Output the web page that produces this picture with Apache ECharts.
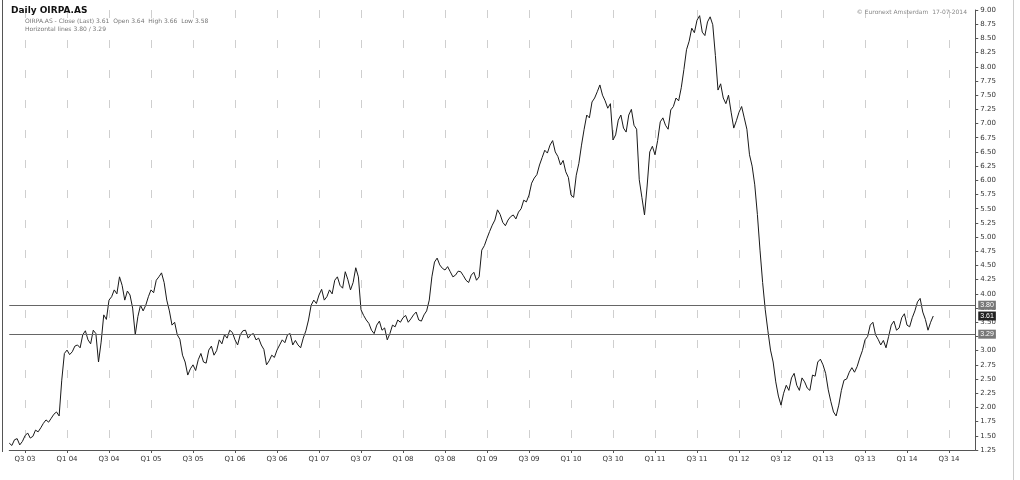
<!DOCTYPE html>
<html>
<head>
<meta charset="utf-8">
<script src="https://cdn.jsdelivr.net/npm/echarts@6/dist/echarts.min.js"></script>
<style>
html,body{margin:0;padding:0;background:#fff;}
#c{width:1020px;height:480px;}
</style>
</head>
<body>
<div id="c"></div>
<script>
// Half-year period labels shown on the x axis
const periodLabels = ['Q3 03','Q1 04','Q3 04','Q1 05','Q3 05','Q1 06','Q3 06','Q1 07','Q3 07','Q1 08','Q3 08','Q1 09','Q3 09','Q1 10','Q3 10','Q1 11','Q3 11','Q1 12','Q3 12','Q1 13','Q3 13','Q1 14','Q3 14'];
const preLabel = 'Q1 03';
const prePoints = 6;
const pointsPerPeriod = 16;
const totalSlots = 369;

// Closing prices (sampled), in order
const prices = [
 1.37,1.33,1.43,1.45,1.34,1.40,
 1.50,1.55,1.46,1.49,1.60,1.57,1.64,1.72,1.78,1.74,1.81,1.88,1.92,1.85,2.48,2.95,
 3.01,2.93,2.98,3.08,3.10,3.05,3.28,3.35,3.19,3.12,3.36,3.30,2.80,3.15,3.63,3.55,
 3.89,3.95,4.07,4.00,4.30,4.15,3.89,4.05,3.98,3.75,3.28,3.60,3.80,3.70,3.80,3.95,
 4.07,4.02,4.24,4.30,4.37,4.20,3.89,3.70,3.45,3.50,3.28,3.20,2.92,2.80,2.57,2.68,
 2.75,2.65,2.84,2.95,2.80,2.78,3.01,3.08,2.92,3.00,3.19,3.12,3.28,3.22,3.36,3.32,
 3.19,3.10,3.28,3.35,3.36,3.22,3.28,3.30,3.19,3.22,3.10,3.02,2.75,2.82,2.92,2.88,
 3.01,3.10,3.19,3.14,3.28,3.30,3.10,3.18,3.10,3.05,3.22,3.35,3.54,3.80,3.89,3.83,
 3.98,4.08,3.89,3.95,4.07,4.00,4.24,4.30,4.15,4.10,4.39,4.25,4.07,4.20,4.46,4.30,
 3.72,3.62,3.54,3.48,3.36,3.30,3.45,3.52,3.36,3.40,3.19,3.30,3.45,3.42,3.54,3.50,
 3.58,3.62,3.50,3.56,3.63,3.68,3.54,3.52,3.63,3.70,3.89,4.30,4.56,4.63,4.51,4.45,
 4.42,4.48,4.39,4.30,4.33,4.40,4.39,4.32,4.24,4.20,4.33,4.38,4.24,4.30,4.77,4.85,
 4.98,5.10,5.21,5.30,5.48,5.40,5.26,5.20,5.30,5.36,5.39,5.32,5.44,5.50,5.65,5.62,
 5.74,5.95,6.04,6.10,6.27,6.40,6.53,6.48,6.62,6.70,6.50,6.42,6.27,6.35,6.15,6.05,
 5.74,5.70,6.09,6.30,6.62,6.90,7.15,7.10,7.38,7.45,7.56,7.68,7.50,7.40,7.27,7.35,
 6.71,6.80,7.06,7.15,6.92,6.85,7.15,7.25,6.97,6.90,6.01,5.70,5.39,5.90,6.50,6.60,
 6.45,6.70,7.03,7.10,6.97,6.90,7.24,7.30,7.45,7.40,7.63,7.95,8.30,8.45,8.68,8.60,
 8.82,8.90,8.61,8.55,8.79,8.88,8.74,8.20,7.59,7.70,7.45,7.35,7.50,7.20,6.92,7.05,
 7.20,7.30,7.10,6.90,6.45,6.25,5.92,5.40,4.77,4.20,3.72,3.35,3.01,2.80,2.45,2.20,
 2.04,2.25,2.39,2.30,2.52,2.60,2.39,2.30,2.52,2.45,2.34,2.30,2.57,2.55,2.80,2.85,
 2.75,2.60,2.31,2.10,1.92,1.85,2.04,2.30,2.48,2.50,2.62,2.70,2.62,2.72,2.87,3.00,
 3.19,3.25,3.45,3.50,3.28,3.20,3.10,3.18,3.05,3.25,3.45,3.52,3.36,3.40,3.58,3.65,
 3.45,3.42,3.58,3.70,3.86,3.92,3.68,3.55,3.36,3.50,3.61
];

// Horizontal reference levels
const levels = [3.80, 3.29];
const lastPrice = 3.61;

// y axis scale
const yMin = 1.25, yMax = 9.0, yStep = 0.25;

// build category list from period labels
const categories = [];
for (let j = 0; j < prePoints; j++) categories.push(preLabel + '|' + (pointsPerPeriod - prePoints + j));
periodLabels.forEach(p => { for (let j = 0; j < pointsPerPeriod; j++) categories.push(p + '|' + j); });
const cats = categories.slice(0, totalSlots);
const isTick = (idx, v) => typeof v === 'string' && v.endsWith('|0');

const chart = echarts.init(document.getElementById('c'), null, {renderer: 'canvas'});
chart.setOption({
  backgroundColor: '#fff',
  animation: false,
  grid: {left: 9.25, right: 44.75, top: 10, bottom: 30, show: false},
  title: [
    {text: 'Daily OIRPA.AS', left: 6, top: 1, textStyle: {fontSize: 9, fontWeight: 'bold', color: '#111', fontFamily: 'DejaVu Sans'}},
    {text: 'OIRPA.AS - Close (Last) 3.61  Open 3.64  High 3.66  Low 3.58', left: 20, top: 13, textStyle: {fontSize: 6, fontWeight: 'normal', color: '#777', fontFamily: 'DejaVu Sans'}},
    {text: 'Horizontal lines 3.80 / 3.29', left: 20, top: 21, textStyle: {fontSize: 6, fontWeight: 'normal', color: '#777', fontFamily: 'DejaVu Sans'}},
    {text: '© Euronext Amsterdam  17-07-2014', right: 48, top: 4, textStyle: {fontSize: 6, fontWeight: 'normal', color: '#888', fontFamily: 'DejaVu Sans'}}
  ],
  graphic: [
    {type: 'line', shape: {x1: 2.5, y1: 0, x2: 2.5, y2: 452}, style: {stroke: '#555', lineWidth: 1}},
    {type: 'line', shape: {x1: 1013.5, y1: 0, x2: 1013.5, y2: 480}, style: {stroke: '#ccc', lineWidth: 1}}
  ],
  xAxis: {
    type: 'category',
    data: cats,
    boundaryGap: false,
    axisLine: {show: true, lineStyle: {color: '#555', width: 1}},
    axisTick: {show: true, interval: isTick, length: 3, lineStyle: {color: '#555'}},
    axisLabel: {interval: isTick, formatter: v => v.split('|')[0], fontSize: 7, color: '#333', margin: 6, fontFamily: 'DejaVu Sans'},
    splitLine: {show: true, interval: isTick, lineStyle: {color: '#cfcfcf', type: [8, 22], width: 1}}
  },
  yAxis: {
    type: 'value',
    position: 'right',
    min: yMin, max: yMax, interval: yStep,
    axisLine: {show: true, lineStyle: {color: '#555', width: 1}},
    axisTick: {show: true, length: 3, lineStyle: {color: '#555'}},
    axisLabel: {fontSize: 7, color: '#333', margin: 5, formatter: v => v.toFixed(2), fontFamily: 'DejaVu Sans'},
    splitLine: {show: false}
  },
  series: [{
    type: 'line',
    data: prices,
    symbol: 'none',
    lineStyle: {color: '#1a1a1a', width: 1},
    markLine: {
      silent: true,
      symbol: 'none',
      lineStyle: {color: '#666', width: 1.2, type: 'solid'},
      label: {show: true, position: 'end', formatter: p => p.value.toFixed(2), fontSize: 7, color: '#fff', backgroundColor: '#777', padding: [1, 2], distance: 3},
      data: levels.map(v => ({yAxis: v})).concat([{yAxis: lastPrice, lineStyle: {color: 'rgba(0,0,0,0)'}, label: {backgroundColor: '#222', color: '#fff'}}])
    }
  }]
});
</script>
</body>
</html>
